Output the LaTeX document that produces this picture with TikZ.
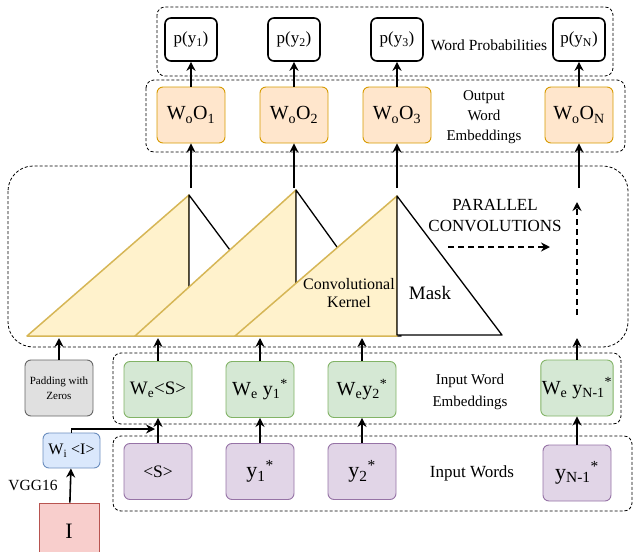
\documentclass[tikz,border=0pt]{standalone}
\usepackage{fontspec}
\setmainfont{Liberation Serif}
\usetikzlibrary{positioning, arrows.meta}

\definecolor{outfill}{HTML}{FFE6CC}
\definecolor{outline}{HTML}{D79B00}
\definecolor{embfill}{HTML}{D5E8D4}
\definecolor{embline}{HTML}{82B366}
\definecolor{wordfill}{HTML}{E1D5E7}
\definecolor{wordline}{HTML}{9673A6}
\definecolor{imgfill}{HTML}{DAE8FC}
\definecolor{imgline}{HTML}{6C8EBF}
\definecolor{picfill}{HTML}{F8CECC}
\definecolor{picline}{HTML}{B85450}
\definecolor{padfill}{HTML}{E0E0E0}
\definecolor{padline}{HTML}{666666}
\definecolor{kernfill}{HTML}{FFF2CC}
\definecolor{kernline}{HTML}{D6B656}

\begin{document}
\begin{tikzpicture}[
  x=1pt, y=-1pt,
  box/.style={draw, rounded corners=6pt, minimum width=68pt, minimum height=56pt, align=center, inner sep=1pt, line width=0.9pt, font=\fontsize{20}{22}\selectfont},
  prob/.style={draw, rounded corners=6pt, minimum width=52pt, minimum height=43pt, inner sep=1pt, line width=1.6pt, font=\fontsize{17}{19}\selectfont},
  group/.style={draw, line width=0.8pt, dash pattern=on 3pt off 2pt, rounded corners=8pt},
  label/.style={align=center, font=\fontsize{15.5}{18}\selectfont},
  arrow/.style={-{Stealth[length=9pt,width=9pt]}, line width=1.6pt},
  dasharrow/.style={arrow, dash pattern=on 6pt off 4pt},
  kernel/.style={fill=kernfill, draw=kernline, line width=1.5pt, line join=round},
  mask/.style={fill=white, draw=black, line width=1.3pt, line join=round}
]
  \useasboundingbox (0,0) rectangle (633,552);

  % dashed groups
  \draw[group] (157,7) rectangle (613,76);
  \draw[group] (146,80) rectangle (625,152);
  \draw[group, rounded corners=25pt] (8,166) rectangle (628,347);
  \draw[group] (113,353) rectangle (621,424);
  \draw[group] (113,436) rectangle (632,511);

  % word probabilities
  \node[prob] (p1) at (191,39.5) {p(y\textsubscript{1})};
  \node[prob] (p2) at (294,39.5) {p(y\textsubscript{2})};
  \node[prob] (p3) at (397,39.5) {p(y\textsubscript{3})};
  \node[prob] (pN) at (579,39.5) {p(y\textsubscript{N})};
  \node[label] (probtxt) at (489,45) {Word Probabilities};

  % output word embeddings
  \node[box, fill=outfill, draw=outline] (wo1) at (191,115) {W\textsubscript{o}O\textsubscript{1}};
  \node[box, fill=outfill, draw=outline] (wo2) at (294,115) {W\textsubscript{o}O\textsubscript{2}};
  \node[box, fill=outfill, draw=outline] (wo3) at (397,115) {W\textsubscript{o}O\textsubscript{3}};
  \node[box, fill=outfill, draw=outline] (woN) at (579,115) {W\textsubscript{o}O\textsubscript{N}};
  \node[label, font=\fontsize{15}{20}\selectfont] (outtxt) at (484,117) {Output\\Word\\Embeddings};

  % parallel convolutions
  \draw[kernel] (27,336) -- (189,336) -- (189,195) -- cycle;
  \draw[mask] (189,195) -- (294,336) -- (189,336) -- cycle;
  \draw[kernel] (135,336) -- (296,336) -- (296,190) -- cycle;
  \draw[mask] (296,190) -- (401,336) -- (296,336) -- cycle;
  \draw[kernel] (235,336) -- (397,336) -- (397,196) -- cycle;
  \draw[mask] (397,196) -- (502,335) -- (397,335) -- cycle;
  \node[label, font=\fontsize{16}{18}\selectfont] (kerntxt) at (349,293) {Convolutional\\Kernel};
  \node[label, font=\fontsize{19}{22}\selectfont] (masktxt) at (430,293) {Mask};
  \node[label, font=\fontsize{17}{21}\selectfont] (partxt) at (495,216) {PARALLEL\\CONVOLUTIONS};

  \coordinate (k1) at (191,188);
  \coordinate (k2) at (294,188);
  \coordinate (k3) at (397,188);
  \coordinate (kN) at (579,188);
  \coordinate (h1) at (448,247);
  \coordinate (h2) at (550,247);
  \coordinate (v1) at (577,315);
  \coordinate (v2) at (577,202);

  % input word embeddings
  \node[box, fill=padfill, draw=padline, font=\fontsize{11}{15}\selectfont] (pad) at (59,388) {Padding with\\Zeros};
  \node[box, fill=embfill, draw=embline, font=\fontsize{19}{22}\selectfont] (we0) at (158,389.5) {W\textsubscript{e}<S>};
  \node[box, fill=embfill, draw=embline] (we1) at (260,389.5) {W\textsubscript{e} y\textsubscript{1}\textsuperscript{*}};
  \node[box, fill=embfill, draw=embline] (we2) at (362,389.5) {W\textsubscript{e}y\textsubscript{2}\textsuperscript{*}};
  \node[box, fill=embfill, draw=embline] (weN) at (577,388) {W\textsubscript{e} y\textsubscript{N-1}\textsuperscript{*}};
  \node[label, font=\fontsize{15}{22}\selectfont] (embtxt) at (470,392) {Input Word\\Embeddings};

  % input words
  \node[box, fill=wordfill, draw=wordline, font=\fontsize{17.5}{20}\selectfont] (s0) at (158,471.5) {<S>};
  \node[box, fill=wordfill, draw=wordline, font=\fontsize{22}{24}\selectfont] (s1) at (260,471.5) {y\textsubscript{1}\textsuperscript{*}};
  \node[box, fill=wordfill, draw=wordline, font=\fontsize{22}{24}\selectfont] (s2) at (362,471.5) {y\textsubscript{2}\textsuperscript{*}};
  \node[box, fill=wordfill, draw=wordline, font=\fontsize{22}{24}\selectfont] (sN) at (577,473) {y\textsubscript{N-1}\textsuperscript{*}};
  \node[label, font=\fontsize{17}{20}\selectfont] (wordtxt) at (472,473) {Input Words};

  % image branch
  \node[box, fill=imgfill, draw=imgline, minimum width=57pt, minimum height=35pt, font=\fontsize{16}{18}\selectfont] (wi) at (71.5,450.5) {W\textsubscript{i} <I>};
  \node[box, fill=picfill, draw=picline, rounded corners=0pt, minimum width=60pt, minimum height=56pt, font=\fontsize{22}{24}\selectfont] (img) at (69,531) {I};
  \node[label] (vggtxt) at (33,485) {VGG16};

  \coordinate (t0) at (59,338);
  \coordinate (t1) at (158,338);
  \coordinate (t2) at (260,338);
  \coordinate (t3) at (362,338);
  \coordinate (tN) at (577,338);
  \coordinate (join) at (155,429);

  \draw[arrow] (wo1) -- (p1);
  \draw[arrow] (wo2) -- (p2);
  \draw[arrow] (wo3) -- (p3);
  \draw[arrow] (woN) -- (pN);
  \draw[arrow] (k1) -- (wo1);
  \draw[arrow] (k2) -- (wo2);
  \draw[arrow] (k3) -- (wo3);
  \draw[arrow] (kN) -- (woN);
  \draw[dasharrow] (h1) -- (h2);
  \draw[dasharrow] (v1) -- (v2);
  \draw[arrow] (pad) -- (t0);
  \draw[arrow] (we0) -- (t1);
  \draw[arrow] (we1) -- (t2);
  \draw[arrow] (we2) -- (t3);
  \draw[arrow] (weN) -- (tN);
  \draw[arrow] (s0) -- (we0);
  \draw[arrow] (s1) -- (we1);
  \draw[arrow] (s2) -- (we2);
  \draw[arrow] (sN) -- (weN);
  \draw[arrow] (img) -- (wi);
  \draw[arrow, line width=1.3pt] (wi.north) |- (join);
\end{tikzpicture}
\end{document}
